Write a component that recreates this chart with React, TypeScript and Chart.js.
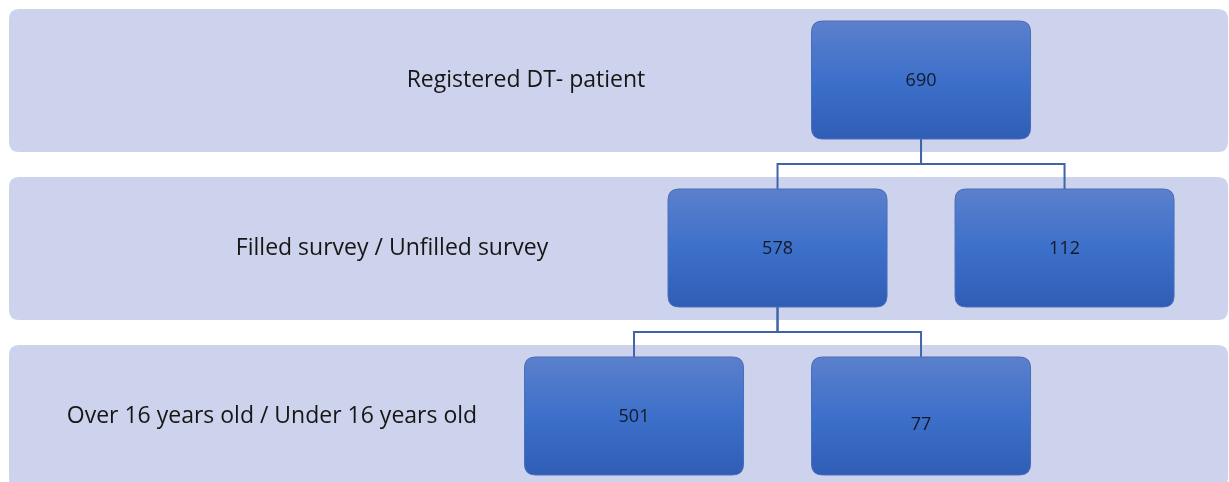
import React, { useEffect, useRef } from "react";
import { Chart, registerables } from "chart.js";

Chart.register(...registerables);

// ---- data ----
const ROW_LABELS = [
  "Registered DT- patient",
  "Filled survey / Unfilled survey",
  "Over 16 years old / Under 16 years old",
];
const NODE_VALUES = [690, 578, 112, 501, 77];
const NODE_ROWS = [0, 1, 1, 2, 2];
const NODE_COLS = [2, 1, 3, 0, 2];
const NODE_PARENTS = [-1, 0, 0, 1, 1];

// ---- layout (scale units) ----
const LABEL_COLS = [-0.753, -1.686, -2.523];
const X_MIN = -4.418;
const X_MAX = 4.146;
const Y_MIN = -0.4762;
const Y_MAX = 2.3929;

// ---- style ----
const W = 1229;
const H = 482;
const BOX_W = 220;
const BOX_H = 119;
const BAND_TOP = 71;
const BAND_BOTTOM = 72;
const BAND_COLOR = "#cdd3ec";
const LINE_COLOR = "#4064aa";
const FONT = "'Open Sans', 'DejaVu Sans', sans-serif";
const NUMBER_DY = [0, 0, 0, 0, 8];

function roundRect(ctx: CanvasRenderingContext2D, x: number, y: number, w: number, h: number, r: number) {
  ctx.beginPath();
  ctx.moveTo(x + r, y);
  ctx.lineTo(x + w - r, y);
  ctx.quadraticCurveTo(x + w, y, x + w, y + r);
  ctx.lineTo(x + w, y + h - r);
  ctx.quadraticCurveTo(x + w, y + h, x + w - r, y + h);
  ctx.lineTo(x + r, y + h);
  ctx.quadraticCurveTo(x, y + h, x, y + h - r);
  ctx.lineTo(x, y + r);
  ctx.quadraticCurveTo(x, y, x + r, y);
  ctx.closePath();
}

const flowPlugin = {
  id: "flow",
  beforeDatasetsDraw(chart: any) {
    const { ctx, chartArea, scales } = chart;
    const ys = scales.y;
    ctx.save();
    ROW_LABELS.forEach((label, r) => {
      const yc = ys.getPixelForValue(r);
      ctx.fillStyle = BAND_COLOR;
      roundRect(ctx, chartArea.left + 9, yc - BAND_TOP, chartArea.right - chartArea.left - 10, BAND_TOP + BAND_BOTTOM, 10);
      ctx.fill();
      ctx.fillStyle = "#161616";
      ctx.font = `23px ${FONT}`;
      ctx.textAlign = "center";
      ctx.textBaseline = "middle";
      ctx.fillText(label, scales.x.getPixelForValue(LABEL_COLS[r]), yc);
    });
    ctx.restore();
  },
  afterDatasetsDraw(chart: any) {
    const { ctx, scales } = chart;
    ctx.save();
    NODE_VALUES.forEach((v, i) => {
      const xc = scales.x.getPixelForValue(NODE_COLS[i]);
      const yc = scales.y.getPixelForValue(NODE_ROWS[i]);
      const x0 = xc - BOX_W / 2;
      const y0 = yc - BOX_H / 2;
      const g = ctx.createLinearGradient(0, y0, 0, y0 + BOX_H);
      g.addColorStop(0, "#5b80cc");
      g.addColorStop(0.5, "#3d70ca");
      g.addColorStop(1, "#2f5db6");
      roundRect(ctx, x0 + 0.5, y0 + 0.5, BOX_W - 1, BOX_H - 1, 11);
      ctx.fillStyle = g;
      ctx.fill();
      ctx.strokeStyle = "#4a6db8";
      ctx.lineWidth = 1;
      ctx.stroke();
      ctx.fillStyle = "#141a28";
      ctx.font = `18px ${FONT}`;
      ctx.textAlign = "center";
      ctx.textBaseline = "middle";
      ctx.fillText(String(v), xc, yc + 1 + NUMBER_DY[i]);
    });
    ctx.restore();
  },
};

export default function App() {
  const ref = useRef<HTMLCanvasElement | null>(null);
  useEffect(() => {
    document.body.style.margin = "0";
    document.body.style.background = "#ffffff";
    const canvas = ref.current;
    if (!canvas) return;

    const connectorSets: any[] = [];
    NODE_PARENTS.forEach((p, i) => {
      if (p < 0) return;
      const mid = (NODE_ROWS[p] + NODE_ROWS[i]) / 2;
      connectorSets.push({
        type: "line",
        label: `link-${i}`,
        data: [
          { x: NODE_COLS[p], y: NODE_ROWS[p] },
          { x: NODE_COLS[p], y: mid },
          { x: NODE_COLS[i], y: mid },
          { x: NODE_COLS[i], y: NODE_ROWS[i] },
        ],
        borderColor: LINE_COLOR,
        borderWidth: 2,
        pointRadius: 0,
        fill: false,
        tension: 0,
      });
    });

    const chart = new Chart(canvas, {
      type: "scatter",
      data: {
        datasets: [
          {
            label: "nodes",
            data: NODE_VALUES.map((v, i) => ({ x: NODE_COLS[i], y: NODE_ROWS[i] })),
            pointRadius: 0,
            showLine: false,
          },
          ...connectorSets,
        ],
      },
      options: {
        responsive: false,
        animation: false,
        layout: { padding: 0 },
        plugins: { legend: { display: false }, tooltip: { enabled: false } },
        scales: {
          x: { type: "linear", min: X_MIN, max: X_MAX, display: false },
          y: { type: "linear", min: Y_MIN, max: Y_MAX, reverse: true, display: false },
        },
      },
      plugins: [flowPlugin],
    });
    return () => chart.destroy();
  }, []);
  return (
    <div style={{ width: W, height: H }}>
      <canvas ref={ref} width={W} height={H} style={{ display: "block" }} />
    </div>
  );
}
